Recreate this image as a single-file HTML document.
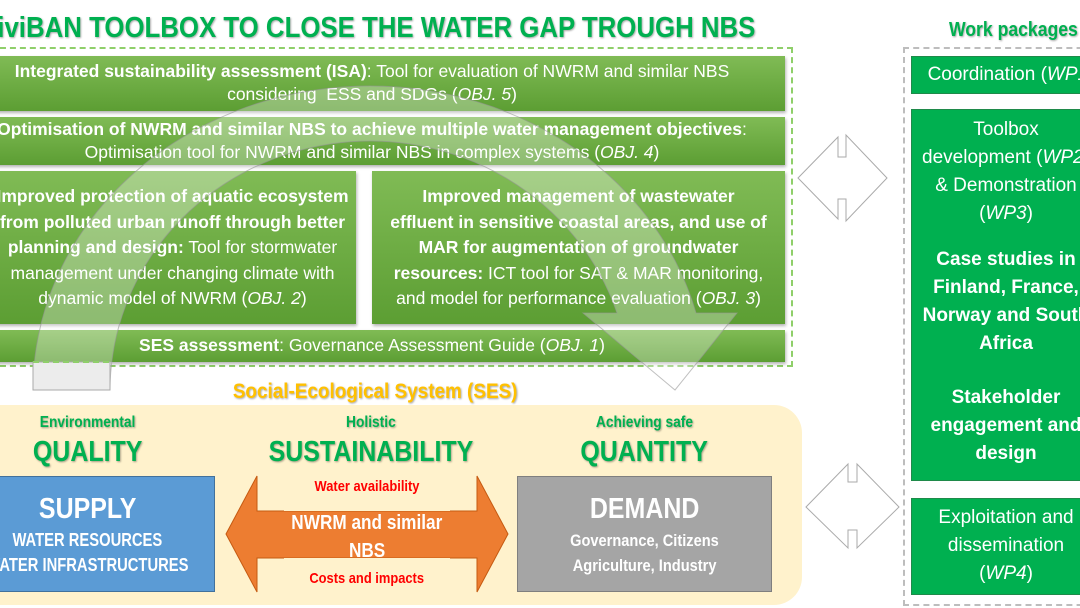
<!DOCTYPE html>
<html><head><meta charset="utf-8"><style>
*{margin:0;padding:0;box-sizing:border-box}
body{width:1080px;height:608px;overflow:hidden;background:#fff;position:relative;font-family:"Liberation Sans",sans-serif}
.a{position:absolute}
.g{background:linear-gradient(#80bb55,#5c9e33);color:#fff;text-align:center;box-shadow:1px 2px 3px rgba(0,0,0,.3);white-space:nowrap}
.c{display:inline-block;transform:scaleX(.86);transform-origin:center;white-space:nowrap}
.wp{background:#00b050;color:#fff;text-align:center;font-size:19px;line-height:28px;border:1px solid #1f8a4a;white-space:nowrap}
.ttl{color:#00b050;font-weight:bold;text-shadow:1px 1px 2px rgba(0,0,0,.35);white-space:nowrap}
</style></head><body>
<div class="a ttl" style="left:-40px;top:12px;font-size:29px;transform:scaleX(.89);transform-origin:left">NAiviBAN TOOLBOX TO CLOSE THE WATER GAP TROUGH NBS</div>
<div class="a ttl" style="left:949px;top:19px;font-size:20px;transform:scaleX(.88);transform-origin:left">Work packages</div>
<div class="a" style="left:-10px;top:47px;width:803px;height:320px;border:2px dashed #8fcf6a;border-left:none"></div>
<div class="a" style="left:903px;top:47px;width:200px;height:559px;border:2px dashed #bdbdbd"></div>

<div class="a g" style="left:-41px;top:56px;width:826px;height:55px;font-size:17.5px;line-height:23px;padding-top:4px"><b>Integrated sustainability assessment (ISA)</b>: Tool for evaluation of NWRM and similar NBS<br>considering&nbsp; ESS and SDGs (<i>OBJ. 5</i>)</div>
<div class="a g" style="left:-41px;top:117px;width:826px;height:48px;font-size:17.5px;line-height:23px;padding-top:1px"><b>Optimisation of NWRM and similar NBS to achieve multiple water management objectives</b>:<br>Optimisation tool for NWRM and similar NBS in complex systems (<i>OBJ. 4</i>)</div>
<div class="a g" style="left:-41px;top:171px;width:397px;height:153px;font-size:17.5px;line-height:25.5px;padding-top:13px;padding-left:30px"><b>Improved protection of aquatic ecosystem<br>from polluted urban runoff through better<br>planning and design:</b> Tool for stormwater<br>management under changing climate with<br>dynamic model of NWRM (<i>OBJ. 2</i>)</div>
<div class="a g" style="left:372px;top:171px;width:413px;height:153px;font-size:17.5px;line-height:25.5px;padding-top:13px"><b>Improved management of wastewater<br>effluent in sensitive coastal areas, and use of<br>MAR for augmentation of groundwater<br>resources:</b> ICT tool for SAT &amp; MAR monitoring,<br>and model for performance evaluation (<i>OBJ. 3</i>)</div>
<div class="a g" style="left:-41px;top:330px;width:826px;height:32px;font-size:17.5px;line-height:31px"><b>SES assessment</b>: Governance Assessment Guide (<i>OBJ. 1</i>)</div>

<svg class="a" style="left:0;top:0" width="1080" height="608">
<path d="M33 390 A337 304 0 0 1 696 313 L737 313 L675 390 L583 313 L617 313 A260 250 0 0 0 110 390 Z" fill="rgba(255,255,255,0.3)" stroke="rgba(150,150,150,0.6)" stroke-width="1"/>
<rect x="33" y="362" width="77" height="28" fill="#ececec" stroke="#aaa"/>
<path d="M33 362 L110 362" stroke="#8fcf6a" stroke-dasharray="6 4" stroke-width="2"/>
<path d="M798 178 L838 137 L838 157 L846 157 L846 135 L887 178 L846 221 L846 199 L838 199 L838 219 Z" fill="#fff" stroke="#aaa"/>
<path d="M806 507 L848 464 L848 482 L857 482 L857 464 L899 507 L857 548 L857 530 L848 530 L848 548 Z" fill="#fff" stroke="#aaa"/>
</svg>

<div class="a ttl" style="left:0;top:380px;width:750px;text-align:center;color:#ffc000;font-size:21px"><span class="c" style="transform:scaleX(.9)">Social-Ecological System (SES)</span></div>
<div class="a" style="left:-40px;top:405px;width:842px;height:200px;background:#fff2cc;border-radius:28px"></div>
<div class="a" style="left:-20px;top:412px;width:860px;height:0">
 <div class="a ttl" style="left:0;top:2px;width:215px;text-align:center;font-size:16px"><span class="c">Environmental</span></div>
 <div class="a ttl" style="left:0;top:24px;width:215px;text-align:center;font-size:29px"><span class="c">QUALITY</span></div>
 <div class="a ttl" style="left:246px;top:2px;width:290px;text-align:center;font-size:16px"><span class="c">Holistic</span></div>
 <div class="a ttl" style="left:246px;top:24px;width:290px;text-align:center;font-size:29px"><span class="c">SUSTAINABILITY</span></div>
 <div class="a ttl" style="left:537px;top:2px;width:255px;text-align:center;font-size:16px"><span class="c">Achieving safe</span></div>
 <div class="a ttl" style="left:537px;top:24px;width:255px;text-align:center;font-size:29px"><span class="c">QUANTITY</span></div>
</div>
<div class="a" style="left:-40px;top:476px;width:255px;height:116px;background:#5b9bd5;border:1px solid #41719c;color:#fff;text-align:center">
 <div style="font-size:29px;font-weight:bold;margin-top:16px"><span class="c">SUPPLY</span></div>
 <div style="font-size:18px;font-weight:bold;line-height:25px;margin-top:2px"><span class="c" style="transform:scaleX(.82)">WATER RESOURCES</span><br><span class="c" style="transform:scaleX(.82)">WATER INFRASTRUCTURES</span></div>
</div>
<svg class="a" style="left:0;top:0" width="1080" height="608">
<path d="M226 534 L257 476 L257 511 L477 511 L477 476 L508 534 L477 592 L477 558 L257 558 L257 592 Z" fill="#ed7d31" stroke="#c55a11"/>
</svg>
<div class="a" style="left:284px;top:476px;width:166px;height:35px;background:#fff2cc"></div>
<div class="a" style="left:284px;top:558px;width:166px;height:34px;background:#fff2cc"></div>
<div class="a" style="left:226px;top:478px;width:282px;text-align:center;color:#ff0000;font-weight:bold;font-size:15px"><span class="c">Water availability</span></div>
<div class="a" style="left:226px;top:570px;width:282px;text-align:center;color:#ff0000;font-weight:bold;font-size:15px"><span class="c">Costs and impacts</span></div>
<div class="a" style="left:226px;top:509px;width:282px;text-align:center;color:#fff;font-weight:bold;font-size:20px;line-height:28px"><span class="c">NWRM and similar</span><br><span class="c">NBS</span></div>
<div class="a" style="left:517px;top:476px;width:255px;height:116px;background:#a5a5a5;border:1px solid #7f7f7f;color:#fff;text-align:center">
 <div style="font-size:29px;font-weight:bold;margin-top:16px"><span class="c">DEMAND</span></div>
 <div style="font-size:17px;font-weight:bold;line-height:25px;margin-top:2px"><span class="c">Governance, Citizens</span><br><span class="c">Agriculture, Industry</span></div>
</div>

<div class="a wp" style="left:911px;top:56px;width:190px;height:38px;line-height:36px;padding-left:10px">Coordination (<i>WP1</i>)</div>
<div class="a wp" style="left:911px;top:109px;width:190px;height:372px;padding-top:6px">Toolbox<br>development (<i>WP2</i>)<br>&amp; Demonstration<br>(<i>WP3</i>)
 <div style="font-weight:bold;margin-top:18px">Case studies in<br>Finland, France,<br>Norway and South<br>Africa</div>
 <div style="font-weight:bold;margin-top:26px">Stakeholder<br>engagement and<br>design</div></div>
<div class="a wp" style="left:911px;top:498px;width:190px;height:97px;padding-top:5px">Exploitation and<br>dissemination<br>(<i>WP4</i>)</div>
</body></html>
